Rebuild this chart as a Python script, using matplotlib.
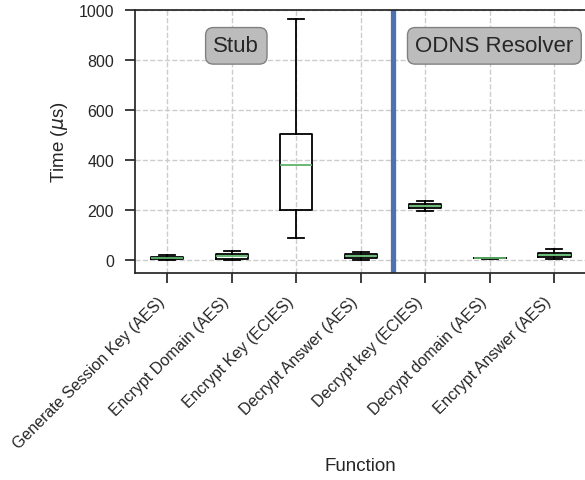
import matplotlib
matplotlib.use("Agg")
import matplotlib.pyplot as plt

# timings in microseconds
functions = ["Generate Session Key (AES)", "Encrypt Domain (AES)", "Encrypt Key (ECIES)",
             "Decrypt Answer (AES)", "Decrypt key (ECIES)", "Decrypt domain (AES)",
             "Encrypt Answer (AES)"]
whislo = [1, 0, 88, 2, 196, 6, 4]
q1 = [4, 5, 200, 8, 209, 7, 13]
med = [8, 15, 380, 15, 216, 8, 20]
q3 = [12, 23, 506, 23, 224, 9, 29]
whishi = [20, 36, 963, 32, 237, 10, 46]

plt.rcParams['font.family'] = ['Liberation Sans', 'DejaVu Sans']
plt.rcParams['text.color'] = '#262626'
plt.rcParams['axes.labelcolor'] = '#262626'
plt.rcParams['xtick.color'] = '#262626'
plt.rcParams['ytick.color'] = '#262626'

stats = []
for i, name in enumerate(functions):
    stats.append({'label': name, 'whislo': whislo[i], 'q1': q1[i], 'med': med[i],
                  'q3': q3[i], 'whishi': whishi[i], 'fliers': []})

fig = plt.figure(figsize=(5.85, 4.81), dpi=100)
ax = fig.add_axes([0.2308, 0.431, 0.772, 0.546])

ax.bxp(stats, showfliers=False, widths=0.5,
       boxprops=dict(color='black', linewidth=1.3),
       whiskerprops=dict(color='black', linewidth=1.3),
       capprops=dict(color='black', linewidth=1.3),
       medianprops=dict(color='#5cb36a', linewidth=1.3))

ax.axvline(4.5, color='#4c72b0', linewidth=3.8)

box = dict(boxstyle='round,pad=0.35', facecolor='#bcbcbc', edgecolor='#808080')
ax.text(2.07, 857, 'Stub', fontsize=16, ha='center', va='center', bbox=box)
ax.text(6.07, 857, 'ODNS Resolver', fontsize=16, ha='center', va='center', bbox=box)

ax.set_xlim(0.5, 7.5)
ax.set_ylim(-50, 1000)
ax.set_yticks([0, 200, 400, 600, 800, 1000])
ax.grid(True, linestyle='--', color='#cccccc', linewidth=1.0)
ax.set_axisbelow(True)
for s in ax.spines.values():
    s.set_color('#262626')
    s.set_linewidth(1.25)
ax.tick_params(direction='out', length=7, width=1.25, labelsize=11.5, pad=8)
plt.setp(ax.get_xticklabels(), rotation=45, ha='right')

ax.set_ylabel(r'Time ($\mu$s)', fontsize=13.5, labelpad=6)
ax.set_xlabel('Function', fontsize=13.5)
ax.xaxis.set_label_coords(0.5, -0.70)

fig.savefig('out.png', dpi=100)
